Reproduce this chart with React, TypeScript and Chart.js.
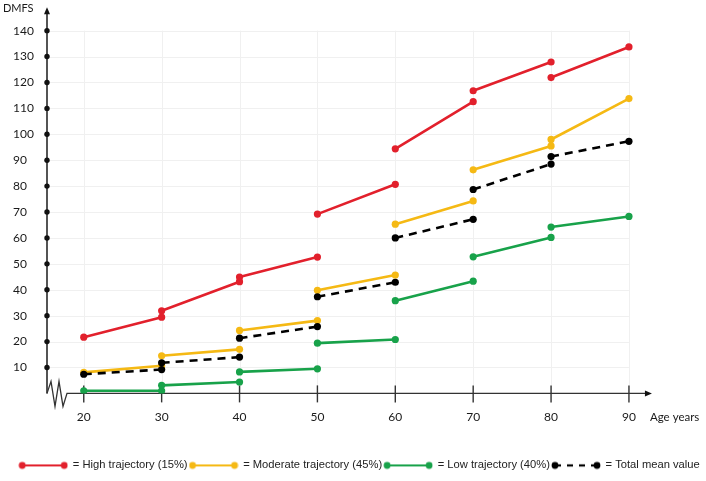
import React, { useEffect, useRef } from "react";
import { Chart, registerables } from "chart.js";

Chart.register(...registerables);

// ---- data ----
const segmentStartAges = [20, 30, 40, 50, 60, 70, 80];
const segmentEndAges = [30, 40, 50, 60, 70, 80, 90];

const highStart = [21.7, 31.9, 44.9, 69.2, 94.4, 116.8, 121.9];
const highEnd = [29.4, 43.1, 52.6, 80.7, 112.6, 127.9, 133.7];

const moderateStart = [8.1, 14.5, 24.3, 39.8, 65.3, 86.3, 98.0];
const moderateEnd = [10.7, 17.0, 28.1, 45.7, 74.3, 95.5, 113.8];

const lowStart = [1.0, 3.1, 8.3, 19.4, 35.8, 52.7, 64.2];
const lowEnd = [1.0, 4.4, 9.5, 20.8, 43.3, 60.2, 68.3];

const meanStart = [7.4, 11.8, 21.3, 37.3, 60.0, 78.7, 91.4];
const meanEnd = [9.2, 14.0, 25.8, 42.9, 67.2, 88.5, 97.3];

const seriesNames = [
  "High trajectory (15%)",
  "Moderate trajectory (45%)",
  "Low trajectory (40%)",
  "Total mean value",
];

const xTickValues = [20, 30, 40, 50, 60, 70, 80, 90];
const yTickValues = [10, 20, 30, 40, 50, 60, 70, 80, 90, 100, 110, 120, 130, 140];

const yAxisTitle = "DMFS";
const xAxisTitle = "Age years";

// ---- styles ----
const RED = "#e2202c";
const YELLOW = "#f5b914";
const GREEN = "#18a24a";
const BLACK = "#000000";

function buildSegments(starts: number[], ends: number[]) {
  const pts: { x: number; y: number | null }[] = [];
  segmentStartAges.forEach((age, i) => {
    pts.push({ x: age, y: starts[i] });
    pts.push({ x: segmentEndAges[i], y: ends[i] });
    if (i < segmentStartAges.length - 1) pts.push({ x: segmentEndAges[i], y: null });
  });
  return pts;
}

function makeIcon(color: string, dashed: boolean) {
  const c = document.createElement("canvas");
  c.width = 50;
  c.height = 10;
  const g = c.getContext("2d")!;
  g.strokeStyle = color;
  g.fillStyle = color;
  g.lineWidth = 2.2;
  if (dashed) g.setLineDash([6, 6]);
  g.beginPath();
  g.moveTo(4, 5);
  g.lineTo(46, 5);
  g.stroke();
  g.setLineDash([]);
  [4, 46].forEach((cx) => {
    g.beginPath();
    g.arc(cx, 5, 3.4, 0, Math.PI * 2);
    g.fill();
  });
  return c;
}

const axesPlugin = {
  id: "customAxes",
  beforeDatasetsDraw(chart: any) {
    const { ctx, chartArea, scales } = chart;
    const xs = scales.x;
    const ys = scales.y;
    const x0 = chartArea.left;
    const yBase = ys.getPixelForValue(0);
    const xLast = xs.getPixelForValue(xTickValues[xTickValues.length - 1]);
    const yTopTick = ys.getPixelForValue(yTickValues[yTickValues.length - 1]);
    ctx.save();
    // faint grid
    ctx.strokeStyle = "#f0f0f0";
    ctx.lineWidth = 1;
    xTickValues.forEach((v) => {
      const px = Math.round(xs.getPixelForValue(v)) + 0.5;
      ctx.beginPath();
      ctx.moveTo(px, yTopTick);
      ctx.lineTo(px, yBase);
      ctx.stroke();
    });
    yTickValues.forEach((v) => {
      const py = Math.round(ys.getPixelForValue(v)) + 0.5;
      ctx.beginPath();
      ctx.moveTo(x0, py);
      ctx.lineTo(xLast, py);
      ctx.stroke();
    });

    // y axis
    ctx.strokeStyle = "#2a2a2a";
    ctx.fillStyle = "#111";
    ctx.lineWidth = 1.6;
    ctx.beginPath();
    ctx.moveTo(x0, yBase);
    ctx.lineTo(x0, chartArea.top + 5);
    ctx.stroke();
    ctx.beginPath();
    ctx.moveTo(x0, chartArea.top);
    ctx.lineTo(x0 - 3, chartArea.top + 7);
    ctx.lineTo(x0 + 3, chartArea.top + 7);
    ctx.closePath();
    ctx.fill();
    yTickValues.forEach((v) => {
      ctx.beginPath();
      ctx.arc(x0, ys.getPixelForValue(v), 2.7, 0, Math.PI * 2);
      ctx.fill();
    });

    // zigzag break + x axis
    const xTip = xLast + 23;
    ctx.strokeStyle = "#333";
    ctx.lineWidth = 1.3;
    ctx.beginPath();
    ctx.moveTo(x0, yBase);
    ctx.lineTo(x0 + 4, yBase - 12);
    ctx.lineTo(x0 + 8, yBase + 13);
    ctx.lineTo(x0 + 12, yBase - 12);
    ctx.lineTo(x0 + 16, yBase + 13);
    ctx.lineTo(x0 + 20, yBase);
    ctx.lineTo(xTip - 5, yBase);
    ctx.stroke();
    ctx.fillStyle = "#111";
    ctx.beginPath();
    ctx.moveTo(xTip, yBase);
    ctx.lineTo(xTip - 7, yBase - 3);
    ctx.lineTo(xTip - 7, yBase + 3);
    ctx.closePath();
    ctx.fill();
    ctx.lineWidth = 1.4;
    xTickValues.forEach((v) => {
      const px = xs.getPixelForValue(v);
      ctx.beginPath();
      ctx.moveTo(px, yBase - 8);
      ctx.lineTo(px, yBase + 9);
      ctx.stroke();
    });
    ctx.restore();
  },
  afterDraw(chart: any) {
    const { ctx, chartArea, scales } = chart;
    const xs = scales.x;
    const ys = scales.y;
    ctx.save();
    ctx.fillStyle = "#1a1a1a";
    ctx.textBaseline = "middle";
    ctx.textAlign = "left";
    ctx.font = "11.5px Lato";
    ctx.fillText(xAxisTitle, xs.getPixelForValue(90) + 21, ys.getPixelForValue(0) + 23.5);
    ctx.font = "11px Lato";
    ctx.fillText(yAxisTitle, 3, chartArea.top + 1.5);
    ctx.restore();
  },
};

export default function App() {
  const ref = useRef<HTMLCanvasElement | null>(null);

  useEffect(() => {
    if (!ref.current) return;
    const colors = [RED, YELLOW, GREEN, BLACK];
    const icons = [
      makeIcon(RED, false),
      makeIcon(YELLOW, false),
      makeIcon(GREEN, false),
      makeIcon(BLACK, true),
    ];
    const starts = [highStart, moderateStart, lowStart, meanStart];
    const ends = [highEnd, moderateEnd, lowEnd, meanEnd];
    const orders = [3, 2, 1, 0];

    const datasets = seriesNames.map((name, i) => ({
      label: name,
      data: buildSegments(starts[i], ends[i]),
      borderColor: colors[i],
      backgroundColor: colors[i],
      pointBackgroundColor: colors[i],
      pointBorderColor: colors[i],
      pointBorderWidth: 0,
      pointRadius: 3.6,
      borderWidth: 2.6,
      borderDash: i === 3 ? [8, 6] : [],
      spanGaps: false,
      tension: 0,
      order: orders[i],
    }));

    const chart = new Chart(ref.current, {
      type: "line",
      data: { datasets },
      plugins: [axesPlugin],
      options: {
        animation: false,
        responsive: false,
        layout: { padding: { left: 13, top: 4, right: 0, bottom: 0 } },
        scales: {
          x: {
            type: "linear",
            min: 15.28,
            max: 99.38,
            grid: { display: false, drawTicks: false },
            border: { display: false },
            afterBuildTicks: (s: any) => {
              s.ticks = xTickValues.map((v) => ({ value: v }));
            },
            afterFit: (s: any) => {
              const lg = s.chart.legend;
              const lh = lg ? lg.height : 0;
              s.height = s.chart.height - lh - 393.4;
            },
            ticks: {
              padding: 17,
              color: "#1a1a1a",
              font: { family: "Lato", size: 12 },
              maxRotation: 0,
              autoSkip: false,
            },
          },
          y: {
            type: "linear",
            min: 0,
            max: 149.05,
            grid: { display: false, drawTicks: false },
            border: { display: false },
            afterBuildTicks: (s: any) => {
              s.ticks = yTickValues.map((v) => ({ value: v }));
            },
            afterFit: (s: any) => {
              s.width = 34;
            },
            ticks: {
              padding: 0,
              crossAlign: "far",
              color: "#1a1a1a",
              font: { family: "Lato", size: 12 },
              autoSkip: false,
            },
          },
        },
        plugins: {
          legend: {
            display: true,
            position: "bottom",
            labels: {
              usePointStyle: true,
              pointStyleWidth: 48,
              boxHeight: 10,
              padding: 2,
              color: "#222",
              font: { family: "'Liberation Sans', Arial", size: 11.2 },
              generateLabels: (c: any) =>
                c.data.datasets.map((ds: any, i: number) => ({
                  text: "= " + ds.label,
                  pointStyle: icons[i],
                  fillStyle: colors[i],
                  strokeStyle: colors[i],
                  lineWidth: 0,
                  hidden: false,
                  datasetIndex: i,
                  fontColor: "#222",
                })),
            },
          },
          tooltip: { enabled: false },
        },
      },
    });
    return () => chart.destroy();
  }, []);

  return (
    <div style={{ position: "absolute", left: 0, top: 0, width: 706, height: 481, background: "#fff" }}>
      <canvas ref={ref} width={706} height={481} style={{ display: "block" }} />
    </div>
  );
}
